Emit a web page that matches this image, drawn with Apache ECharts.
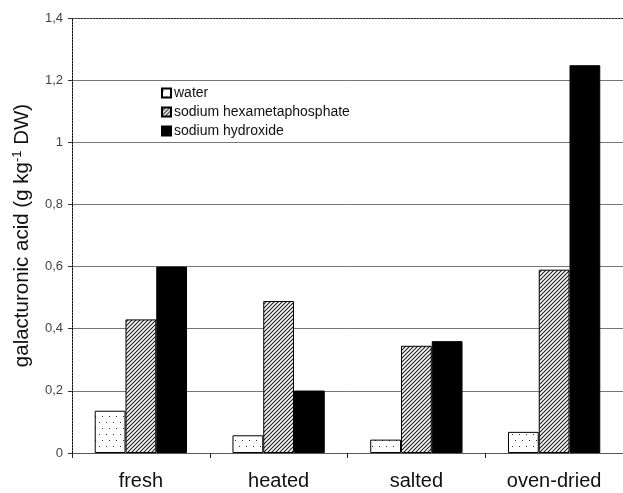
<!DOCTYPE html>
<html>
<head>
<meta charset="utf-8">
<script src="https://cdn.jsdelivr.net/npm/echarts@6/dist/echarts.min.js"></script>
<style>html,body{margin:0;padding:0;background:#fff}#c{width:623px;height:493px}</style>
</head>
<body>
<div id="c"></div>
<script>
const categories = ['fresh', 'heated', 'salted', 'oven-dried'];
const water = [0.136, 0.057, 0.043, 0.068];
const hexametaphosphate = [0.43, 0.489, 0.345, 0.59];
const hydroxide = [0.60, 0.201, 0.36, 1.248];
const yTicks = [0, 0.2, 0.4, 0.6, 0.8, 1, 1.2, 1.4];
const seriesNames = ['water', 'sodium hexametaphosphate', 'sodium hydroxide'];

function dotPattern() {
  const c = document.createElement('canvas');
  c.width = 7; c.height = 12;
  const g = c.getContext('2d');
  g.fillStyle = '#fff'; g.fillRect(0, 0, 7, 12);
  g.fillStyle = '#333';
  g.fillRect(1, 2, 1, 1);
  g.fillRect(4, 8, 1, 1);
  return c;
}
function hatchPattern() {
  const c = document.createElement('canvas');
  c.width = 4; c.height = 4;
  const g = c.getContext('2d');
  g.fillStyle = '#fff'; g.fillRect(0, 0, 4, 4);
  g.strokeStyle = '#222'; g.lineWidth = 1.2;
  g.beginPath();
  g.moveTo(-1, 5); g.lineTo(5, -1);
  g.moveTo(-1, 1); g.lineTo(1, -1);
  g.moveTo(3, 5); g.lineTo(5, 3);
  g.stroke();
  return c;
}

const chart = echarts.init(document.getElementById('c'), null, {renderer: 'canvas'});
const fontFam = 'Liberation Sans, Arial, sans-serif';
const barBase = {type: 'bar', barGap: '0%', barCategoryGap: '33%'};

chart.setOption({
  animation: false,
  grid: {left: 72, width: 553, top: 18, bottom: 40, containLabel: false},
  legend: {
    orient: 'vertical', left: 156, top: 81, icon: 'rect',
    itemWidth: 9, itemHeight: 9, itemGap: 5,
    textStyle: {fontFamily: fontFam, fontSize: 14, color: '#111', lineHeight: 14, padding: [0, 0, 0, -2]},
    data: seriesNames
  },
  xAxis: [{
    type: 'category', data: categories,
    axisLine: {lineStyle: {color: '#555', type: [2, 1]}},
    axisTick: {show: true, length: 5, lineStyle: {color: '#222'}},
    axisLabel: {fontFamily: fontFam, fontSize: 20, color: '#111', margin: 18},
    splitLine: {show: false}
  }, {
    type: 'category', data: categories, position: 'top',
    axisLine: {show: true, lineStyle: {color: '#333', type: [2, 1]}},
    axisTick: {show: false}, axisLabel: {show: false}
  }],
  yAxis: {
    type: 'value', min: 0, max: 1.4, interval: 0.2,
    name: '{a|galacturonic acid (g kg}{s|-1}{a| DW)}',
    nameLocation: 'middle', nameGap: 39,
    nameTextStyle: {
      rich: {
        a: {fontFamily: fontFam, fontSize: 20.5, color: '#111'},
        s: {fontFamily: fontFam, fontSize: 13, color: '#111', verticalAlign: 'top', padding: [0, 0, 9, 0]}
      }
    },
    axisLine: {show: true, lineStyle: {color: '#111', type: [2, 1]}},
    axisTick: {show: true, length: 4, lineStyle: {color: '#333'}},
    axisLabel: {
      fontFamily: fontFam, fontSize: 13, color: '#444', margin: 9,
      formatter: v => {
        const t = yTicks.find(x => Math.abs(x - v) < 1e-9);
        return String(t === undefined ? v : t).replace('.', ',');
      }
    },
    splitLine: {show: true, lineStyle: {color: ['#777', '#777', '#777', '#777', '#777', '#777', '#777', 'rgba(0,0,0,0)'], width: 1}}
  },
  series: [
    Object.assign({}, barBase, {name: seriesNames[0], data: water, itemStyle: {borderColor: '#000', borderWidth: 1, color: {image: dotPattern(), repeat: 'repeat'}}}),
    Object.assign({}, barBase, {name: seriesNames[1], data: hexametaphosphate, itemStyle: {borderColor: '#000', borderWidth: 1, color: {image: hatchPattern(), repeat: 'repeat'}}}),
    Object.assign({}, barBase, {name: seriesNames[2], data: hydroxide, itemStyle: {borderColor: '#000', borderWidth: 1, color: '#000'}})
  ]
});
</script>
</body>
</html>
